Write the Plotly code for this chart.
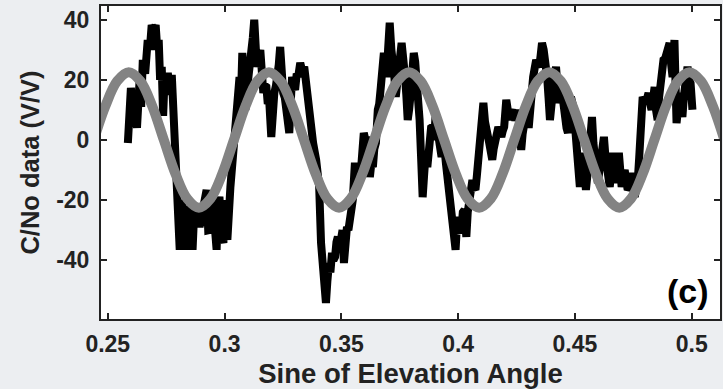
import plotly.graph_objects as go

data_x = [0.2586, 0.2590, 0.2599, 0.2608, 0.2616, 0.2625, 0.2637, 0.2643, 0.2650, 0.2660, 0.2671, 0.2680, 0.2688, 0.2697, 0.2705, 0.2712, 0.2718, 0.2724, 0.2731, 0.2737, 0.2744, 0.2750, 0.2757, 0.2766, 0.2774, 0.2781, 0.2791, 0.2800, 0.2808, 0.2815, 0.2821, 0.2833, 0.2842, 0.2850, 0.2856, 0.2863, 0.2871, 0.2880, 0.2893, 0.2906, 0.2923, 0.2930, 0.2936, 0.2948, 0.2958, 0.2966, 0.2972, 0.2978, 0.2990, 0.2995,
          0.3000, 0.3006, 0.3012, 0.3025, 0.3038, 0.3051, 0.3064, 0.3070, 0.3076, 0.3083, 0.3089, 0.3095, 0.3102, 0.3115, 0.3121, 0.3127, 0.3134, 0.3140, 0.3153, 0.3160, 0.3166, 0.3172, 0.3179, 0.3185, 0.3191, 0.3200, 0.3206, 0.3213, 0.3220, 0.3226, 0.3232, 0.3238, 0.3245, 0.3251, 0.3258, 0.3264, 0.3270, 0.3277, 0.3283, 0.3289, 0.3296, 0.3302, 0.3309, 0.3315, 0.3324, 0.3332, 0.3341, 0.3353, 0.3366, 0.3379, 0.3392, 0.3405, 0.3413, 0.3426, 0.3434,
          0.3440, 0.3447, 0.3453, 0.3460, 0.3466, 0.3473, 0.3479, 0.3485, 0.3492, 0.3498, 0.3505, 0.3511, 0.3517, 0.3524, 0.3530, 0.3537, 0.3543, 0.3549, 0.3558, 0.3565, 0.3571, 0.3578, 0.3584, 0.3590, 0.3596, 0.3603, 0.3609, 0.3616, 0.3622, 0.3628, 0.3635, 0.3641, 0.3648, 0.3656, 0.3662, 0.3669, 0.3675, 0.3682, 0.3688, 0.3694, 0.3700, 0.3707, 0.3714, 0.3720, 0.3726, 0.3733, 0.3740, 0.3746, 0.3752, 0.3758, 0.3765, 0.3771, 0.3778, 0.3784, 0.3790, 0.3797, 0.3803, 0.3810, 0.3816, 0.3822, 0.3828, 0.3835, 0.3841, 0.3848, 0.3854, 0.3861, 0.3868,
          0.3872, 0.3878, 0.3884, 0.3890, 0.3897, 0.3903, 0.3910, 0.3916, 0.3922, 0.3929, 0.3935, 0.3942, 0.3948, 0.3954, 0.3961, 0.3967, 0.3974, 0.3980, 0.3989, 0.3995, 0.4001, 0.4008, 0.4014, 0.4020, 0.4027, 0.4031, 0.4035, 0.4041, 0.4048, 0.4054, 0.4061, 0.4068, 0.4074, 0.4080, 0.4087, 0.4095, 0.4102, 0.4108, 0.4115, 0.4121, 0.4127, 0.4133, 0.4140, 0.4146, 0.4152, 0.4159, 0.4165, 0.4172, 0.4178, 0.4185, 0.4191, 0.4197, 0.4206, 0.4212, 0.4219, 0.4225, 0.4232, 0.4238, 0.4244, 0.4251, 0.4257, 0.4263, 0.4270, 0.4276, 0.4283, 0.4289, 0.4295,
          0.4302, 0.4308, 0.4315, 0.4321, 0.4328, 0.4334, 0.4340, 0.4347, 0.4353, 0.4359, 0.4366, 0.4372, 0.4378, 0.4381, 0.4387, 0.4393, 0.4400, 0.4406, 0.4413, 0.4419, 0.4425, 0.4432, 0.4438, 0.4445, 0.4451, 0.4457, 0.4464, 0.4470, 0.4477, 0.4483, 0.4490, 0.4496, 0.4502, 0.4509, 0.4515, 0.4521, 0.4528, 0.4534, 0.4540, 0.4547, 0.4553, 0.4560, 0.4566, 0.4573, 0.4579, 0.4585, 0.4592, 0.4598, 0.4605, 0.4611, 0.4617, 0.4624, 0.4630, 0.4636, 0.4643, 0.4649, 0.4656, 0.4662, 0.4668, 0.4675, 0.4681, 0.4688, 0.4694, 0.4700, 0.4707, 0.4713, 0.4720, 0.4726,
          0.4734, 0.4743, 0.4750, 0.4756, 0.4763, 0.4769, 0.4775, 0.4781, 0.4786, 0.4790, 0.4797, 0.4803, 0.4809, 0.4815, 0.4822, 0.4828, 0.4835, 0.4841, 0.4847, 0.4854, 0.4860, 0.4867, 0.4873, 0.4879, 0.4886, 0.4892, 0.4899, 0.4905, 0.4912, 0.4918, 0.4926, 0.4930, 0.4935, 0.4941, 0.4948, 0.4954, 0.4960, 0.4967, 0.4973, 0.4982, 0.4988, 0.4995, 0.5003]
data_y = [-1.0, 4, 17.3, 8, 12, 4, 20.9, 11, 26.6, 22, 33.2, 30, 38.2, 36, 38.2, 30, 33.2, 20, 24.3, 8, 22.3, 18, 22.3, 15, 21.6, 6.6, -7.6, -20, -36.5, -19.9, -23.3, -36.5, -22, -23.3, -35, -36.5, -22, -23.3, -28.9, -22.3, -16.6, -30, -29.9, -18.9, -36, -36.5, -22, -18.9, -33, -34.2,
          -20, -32, -33.2, -15.6, -3.3, 10.0, 20.9, 14, 28.9, 20, 10, 16, 23.3, 29.9, 34, 39.9, 30, 24.3, 29.9, 20, 15.6, 18, 17.6, 12, 13.3, 1.0, 12, 15.6, 18, 20.9, 25, 30.9, 20, 15.6, 14, 10.0, 6, 2.3, 12, 20.9, 18, 16.6, 22, 20.9, 25.6, 23, 24.3, 14.3, 7.6, -1.0, -6.6, -15.6, -34.2, -50, -54.2,
          -47, -40.9, -44, -37.5, -40, -38.9, -34, -32.2, -36, -34.2, -30, -40.9, -32, -28.9, -30, -25.6, -24, -19.9, -7.6, -14, -11.0, -8, -10.0, -2, 2.3, 0, 1.0, -5, -12.3, -8, -9.0, -3, -1.0, 10.0, 12, 17.6, 22, 28.9, 24, 20.9, 30, 38.9, 30, 26.6, 22, 14.3, 22, 26.6, 28, 32.2, 28, 22.3, 15, 6.6, 10, 15.6, 22, 28.9, 26, 20.9, 12, 6.6, -5, -19, -12, -4.3, -9.0,
          -2, -1.0, 4, 4.3, 0, 7.6, 4, 1.0, -2, -5.6, -3, -3.3, -8, -12.3, -15, -18.9, -22, -28.9, -36.5, -28, -25.6, -30, -29.9, -24, -23.3, -28, -32.2, -24, -18.9, -16, -13.3, -16, -16.6, -12, -6.6, 1.0, 8, 12.3, 6, 2.3, 0, -1.0, -4, -6.6, -3, -1.0, 2, 4.3, 3, 1.0, 3, 4.3, 13.3, 9, 6.6, 9, 10.0, 8, 6.6, 8, 10.0, 4, -3.3, 2, 6.6, 9, 11.0,
          4, 12.3, 16, 20.9, 24, 26.6, 25, 24.3, 28, 32.2, 30, 27.6, 24, 20.9, 14, 6.6, 12, 17.6, 22, 24.3, 18, 12.3, 14, 15.6, 10, 6.6, 4, 2.3, 8, 14.3, 12, 10.0, 3, -3.3, -10, -15.6, -8, -4.3, -10, -16.6, -12, -6.6, 2, 7.6, -1, -4.3, -10, -14.3, -10, -7.6, -3, 1.0, -5, -10.0, -13, -15.6, -10, -4.3, -9, -14.3, -9, -4.3, -10, -15.6, -12, -10.0, -14, -16.6,
          -15.6, -11.0, -15, -18.9, -16, -13.3, -6, 1.0, 8, 14.3, 13, 12.3, 14, 15.6, 12, 10.0, 14, 17.6, 10, 6.6, 14, 20.9, 24, 26.6, 27, 28.9, 30, 32.2, 25, 20.9, 33.2, 20, 5.6, 10, 15.6, 10, 7.6, 15, 22.3, 24.3, 20, 18.9, 10.0]

# Gray model curve
model_x = [0.244, 0.249, 0.254, 0.259, 0.264, 0.269, 0.274, 0.279, 0.284, 0.289, 0.294, 0.299,
           0.304, 0.309, 0.314, 0.319, 0.324, 0.329, 0.334, 0.339, 0.344, 0.349, 0.354, 0.359,
           0.364, 0.369, 0.374, 0.379, 0.384, 0.389, 0.394, 0.399, 0.404, 0.409, 0.414, 0.419,
           0.424, 0.429, 0.434, 0.439, 0.444, 0.449, 0.454, 0.459, 0.464, 0.469, 0.474, 0.479,
           0.484, 0.489, 0.494, 0.499, 0.504, 0.509, 0.514]
model_y = [0.0, 11.3, 19.5, 22.5, 19.5, 11.3, 0.0, -11.3, -19.5, -22.5, -19.5, -11.3,
           0.0, 11.3, 19.5, 22.5, 19.5, 11.3, 0.0, -11.3, -19.5, -22.5, -19.5, -11.3,
           0.0, 11.3, 19.5, 22.5, 19.5, 11.3, 0.0, -11.3, -19.5, -22.5, -19.5, -11.3,
           0.0, 11.3, 19.5, 22.5, 19.5, 11.3, 0.0, -11.3, -19.5, -22.5, -19.5, -11.3,
           0.0, 11.3, 19.5, 22.5, 19.5, 11.3, 0.0]

x_ticks = [0.25, 0.3, 0.35, 0.4, 0.45, 0.5]
x_ticktext = ["0.25", "0.3", "0.35", "0.4", "0.45", "0.5"]
y_ticks = [-40, -20, 0, 20, 40]
y_ticktext = ["-40", "-20", "0", "20", "40"]

fig = go.Figure()
fig.add_trace(go.Scatter(x=data_x, y=data_y, mode="lines",
                         line=dict(color="black", width=8), showlegend=False))
fig.add_trace(go.Scatter(x=model_x, y=model_y, mode="lines",
                         line=dict(color="#838383", width=10, shape="spline"),
                         showlegend=False))

FAM = "Liberation Sans, Arial, sans-serif"
axis_font = dict(family=FAM, size=23, color="#222222", weight="bold")

fig.update_layout(
    width=723, height=389,
    margin=dict(l=101, r=1, t=6, b=70),
    paper_bgcolor="#eceef1",
    plot_bgcolor="white",
    xaxis=dict(range=[0.2471, 0.5121], tickvals=x_ticks, ticktext=x_ticktext,
               ticks="inside", ticklen=6, tickwidth=2, tickcolor="#222222",
               showline=True, linecolor="#222222", linewidth=2, mirror="ticks",
               showgrid=False, zeroline=False, tickfont=axis_font,
               ticklabelstandoff=3,
               title=dict(text="Sine of Elevation Angle",
                          font=dict(family=FAM, size=27.5, color="#222222", weight="bold"),
                          standoff=12)),
    yaxis=dict(range=[-59.5, 44.5], tickvals=y_ticks, ticktext=y_ticktext,
               ticks="inside", ticklen=6, tickwidth=2, tickcolor="#222222",
               showline=True, linecolor="#222222", linewidth=2, mirror="ticks",
               showgrid=False, zeroline=False, tickfont=axis_font,
               ticklabelstandoff=5,
               title=dict(text="C/No data (V/V)",
                          font=dict(family=FAM, size=25.5, color="#222222", weight="bold"),
                          standoff=9)),
    annotations=[dict(text="(c)", x=0.948, y=0.088, xref="paper", yref="paper",
                      xanchor="center", yanchor="middle", showarrow=False,
                      font=dict(family=FAM, size=34, color="black", weight="bold"))],
)

fig.write_html("out.html")
